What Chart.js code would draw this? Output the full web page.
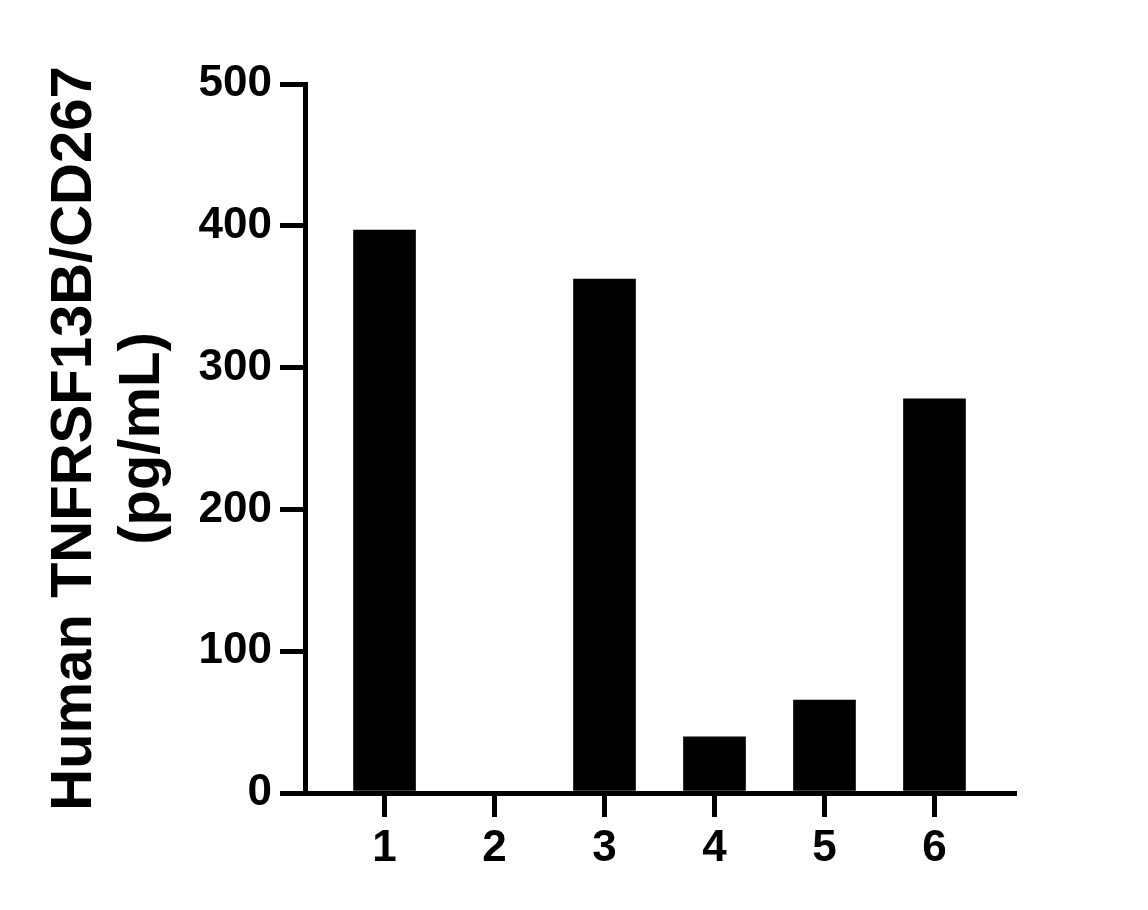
<!DOCTYPE html>
<html>
<head>
<meta charset="utf-8">
<script src="https://cdn.jsdelivr.net/npm/chart.js@4"></script>
<style>
html,body{margin:0;padding:0;background:#fff;}
#wrap{width:1148px;height:910px;}
</style>
</head>
<body>
<div id="wrap"><canvas id="c" width="1148" height="910"></canvas></div>
<script>
const categories = ['1', '2', '3', '4', '5', '6'];
const values = [397, 0, 362.5, 39.7, 65.5, 278];
const yTicks = [0, 100, 200, 300, 400, 500];
const yTitle = ['Human TNFRSF13B/CD267', '(pg/mL)'];

const FONT = '"Liberation Sans", Arial, Helvetica, sans-serif';
const points = categories.map((c, i) => ({x: i + 1, y: values[i]}));

new Chart(document.getElementById('c'), {
  type: 'bar',
  data: {
    datasets: [{
      data: points,
      backgroundColor: '#000',
      borderWidth: 0,
      barThickness: 62
    }]
  },
  options: {
    responsive: false,
    animation: false,
    devicePixelRatio: 1,
    layout: {padding: {top: 84, right: 134, bottom: 0, left: 0}},
    plugins: {legend: {display: false}, tooltip: {enabled: false}},
    scales: {
      x: {
        type: 'linear',
        offset: false,
        min: 0.277,
        max: 6.723,
        afterBuildTicks: (s) => { s.ticks = categories.map((c, i) => ({value: i + 1})); },
        afterFit: (s) => { s.height = 117; },
        grid: {offset: false, drawOnChartArea: false, color: '#000', lineWidth: 5, tickLength: 24},
        border: {display: true, color: '#000', width: 5},
        ticks: {
          color: '#000',
          padding: 5,
          font: {family: FONT, size: 44, weight: 'bold'},
          callback: (v) => categories[Math.round(v) - 1] ?? ''
        }
      },
      y: {
        min: 0,
        max: 500,
        afterBuildTicks: (s) => { s.ticks = yTicks.map(v => ({value: v})); },
        afterFit: (s) => { s.width = 305; },
        grid: {drawOnChartArea: false, color: '#000', lineWidth: 5, tickLength: 25},
        border: {display: true, color: '#000', width: 5},
        ticks: {
          color: '#000',
          padding: 8,
          font: {family: FONT, size: 44, weight: 'bold'}
        },
        title: {
          display: true,
          text: yTitle,
          color: '#000',
          padding: {top: 41, bottom: 0},
          font: {family: FONT, size: 58, weight: 'bold', lineHeight: 1.17}
        }
      }
    }
  }
});
</script>
</body>
</html>
